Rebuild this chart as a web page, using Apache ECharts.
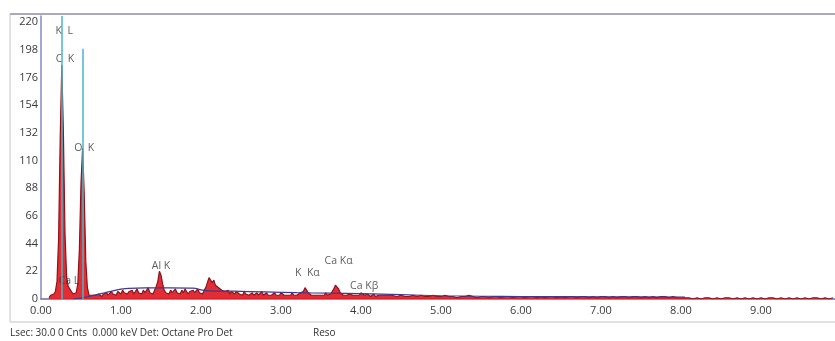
<!DOCTYPE html>
<html lang="en">
<head>
    <meta charset="UTF-8">
    <title>EDS spectrum</title>
    <style>
        html, body {margin: 0; padding: 0; background: #fff;}
        #spectrum {width: 835px; height: 341px;}
    </style>
</head>
<body>
<div id="spectrum"></div>
<script src="https://cdn.jsdelivr.net/npm/echarts@6/dist/echarts.min.js"></script>
<script type="text/javascript">
    // 能谱数据: 0.10 ~ 4.38 keV 每 0.02 keV 一个通道
    const lowStart = 0.10, lowStep = 0.02;
    const lowCounts = [
        1, 3, 2, 4, 6, 14, 48, 128, 186, 132,
        52, 18, 10, 9, 6, 4, 3, 5, 12, 40,
        92, 120, 84, 30, 9, 3, 2, 3, 2, 3,
        2, 4, 3, 2, 4, 3, 5, 3, 4, 6,
        4, 5, 3, 6, 5, 4, 7, 5, 6, 4,
        6, 5, 7, 4, 6, 8, 5, 6, 4, 7,
        5, 6, 9, 5, 6, 4, 7, 10, 14, 22,
        19, 12, 7, 5, 6, 4, 7, 5, 6, 8,
        5, 6, 4, 7, 5, 8, 6, 4, 6, 5,
        7, 5, 6, 8, 5, 6, 4, 7, 9, 13,
        17, 16, 13, 15, 11, 12, 9, 10, 7, 8,
        6, 5, 7, 4, 6, 5, 4, 6, 5, 4,
        5, 3, 6, 4, 5, 3, 4, 5, 3, 4,
        5, 3, 4, 6, 3, 4, 5, 3, 4, 3,
        4, 5, 3, 4, 3, 5, 4, 3, 4, 3,
        4, 3, 5, 3, 4, 3, 4, 5, 4, 6,
        9, 7, 5, 4, 3, 4, 3, 4, 3, 4,
        3, 4, 3, 5, 3, 4, 4, 6, 8, 11,
        10, 8, 5, 4, 3, 4, 3, 3, 4, 3,
        3, 4, 3, 4, 3, 5, 4, 3, 3, 4,
        3, 2, 3, 4, 2, 3, 3, 2, 3, 2,
        3, 2, 3, 2, 3
    ];
    // 4.40 ~ 9.90 keV 每 0.05 keV
    const highStart = 4.40, highStep = 0.05;
    const highCounts = [
        3, 2, 3, 2, 2, 3, 2, 3, 2, 2,
        3, 2, 2, 3, 2, 2, 1, 2, 2, 3,
        2, 1, 2, 2, 1, 2, 2, 1, 2, 2,
        1, 2, 2, 1, 2, 2, 1, 2, 1, 2,
        2, 1, 2, 1, 2, 2, 1, 2, 2, 1,
        2, 1, 2, 2, 1, 2, 1, 2, 2, 1,
        2, 2, 1, 2, 1, 2, 1, 2, 2, 1,
        2, 1, 1, 1, 1, 0, 1, 0, 1, 1,
        0, 1, 0, 1, 1, 0, 1, 0, 1, 0,
        1, 0, 1, 0, 1, 1, 0, 1, 0, 1,
        0, 1, 0, 1, 0, 1, 1, 0, 1, 0,
        1
    ];
    // 背景拟合曲线
    const bgEnergy = [0.40, 0.50, 0.60, 0.70, 0.80, 0.90, 1.00, 1.10, 1.30, 1.60, 1.90, 2.02, 2.10, 2.40, 2.80, 3.20, 3.60, 4.00, 4.50, 5.00, 5.50, 6.00, 7.00, 8.05];
    const bgCounts = [0, 0.8, 2, 3.5, 5, 6.5, 7.8, 8.5, 8.8, 8.8, 8.6, 7, 6.5, 6.2, 5.6, 5, 4.6, 4.2, 3.4, 2.6, 2.2, 2, 1.8, 1.6];
    // 元素标记线
    const markerEnergy = [0.26, 0.52];
    const markerTop = [225, 199];
    // 峰标签
    const peakNames = ['K  L', 'C  K', 'O  K', 'Ca L', 'Al K', 'K  Kα', 'Ca Kα', 'Ca Kβ'];
    const peakEnergy = [0.29, 0.30, 0.54, 0.35, 1.50, 3.33, 3.72, 4.04];
    const peakCounts = [213, 191, 120, 14, 26, 21, 30, 10];
    const yTicks = [0, 22, 44, 66, 88, 110, 132, 154, 176, 198, 220];

    let spectrum = [];
    lowCounts.forEach(function (c, i) {
        spectrum.push([+(lowStart + i * lowStep).toFixed(2), c]);
    });
    highCounts.forEach(function (c, i) {
        spectrum.push([+(highStart + i * highStep).toFixed(2), c]);
    });
    let background = bgEnergy.map((e, i) => [e, bgCounts[i]]);
    let markers = markerEnergy.map((e, i) => [{coord: [e, 0]}, {coord: [e, markerTop[i]]}]);
    let labels = peakNames.map((n, i) => [peakEnergy[i], peakCounts[i], n]);

    const font = '"Open Sans", "DejaVu Sans", sans-serif';
    let chart = echarts.init(document.getElementById('spectrum'));
    let option = {
        animation: false,
        grid: {left: 41, right: 0, top: 16, bottom: 42},
        graphic: [
            {type: 'rect', shape: {x: 10, y: 14, width: 830, height: 308}, style: {fill: 'none', stroke: '#c4c4cc', lineWidth: 1}},
            {type: 'line', shape: {x1: 10, y1: 14, x2: 835, y2: 14}, style: {stroke: '#a9a9b8', lineWidth: 2}},
            {type: 'text', left: 10, top: 328, style: {text: 'Lsec: 30.0 0 Cnts  0.000 keV Det: Octane Pro Det', fill: '#333', font: '10px ' + font}},
            {type: 'text', left: 313, top: 328, style: {text: 'Reso', fill: '#333', font: '10px ' + font}}
        ],
        xAxis: {
            type: 'value', min: 0, max: 9.925, interval: 1,
            axisLine: {lineStyle: {color: '#6f69a8', width: 1.5}},
            axisTick: {show: false},
            splitLine: {show: false},
            axisLabel: {
                color: '#3a3a3a', fontSize: 11, fontFamily: font, margin: 6, showMaxLabel: false,
                formatter: v => v.toFixed(2)
            }
        },
        yAxis: {
            type: 'value', min: 0, max: 225, interval: 22,
            axisLine: {show: true, lineStyle: {color: '#7f8cc0', width: 1.5}},
            axisTick: {show: false},
            splitLine: {show: false},
            axisLabel: {
                color: '#3a3a3a', fontSize: 11, fontFamily: font, margin: 3, showMaxLabel: false,
                formatter: v => yTicks.indexOf(v) >= 0 ? String(v) : ''
            }
        },
        series: [
            {
                name: 'markers', type: 'line', data: [], z: 1,
                markLine: {
                    silent: true, symbol: 'none', animation: false,
                    lineStyle: {color: '#4bb4c6', width: 1.5, type: 'solid'},
                    label: {show: false},
                    data: markers
                }
            },
            {
                name: 'spectrum', type: 'line', data: spectrum, z: 2,
                showSymbol: false,
                lineStyle: {color: '#8e1219', width: 1.2},
                areaStyle: {color: '#e0161f', opacity: 0.9}
            },
            {
                name: 'background', type: 'line', data: background, z: 3,
                showSymbol: false, smooth: 0.3,
                lineStyle: {color: '#3f3a8e', width: 1.2}
            },
            {
                name: 'labels', type: 'scatter', data: labels, z: 4,
                symbolSize: 0,
                label: {
                    show: true, position: 'inside', color: '#333', fontSize: 10.5, fontFamily: font,
                    formatter: p => p.value[2]
                }
            }
        ]
    };
    chart.setOption(option);
    window.onresize = function () {
        chart && chart.resize();
    };
</script>
</body>
</html>
